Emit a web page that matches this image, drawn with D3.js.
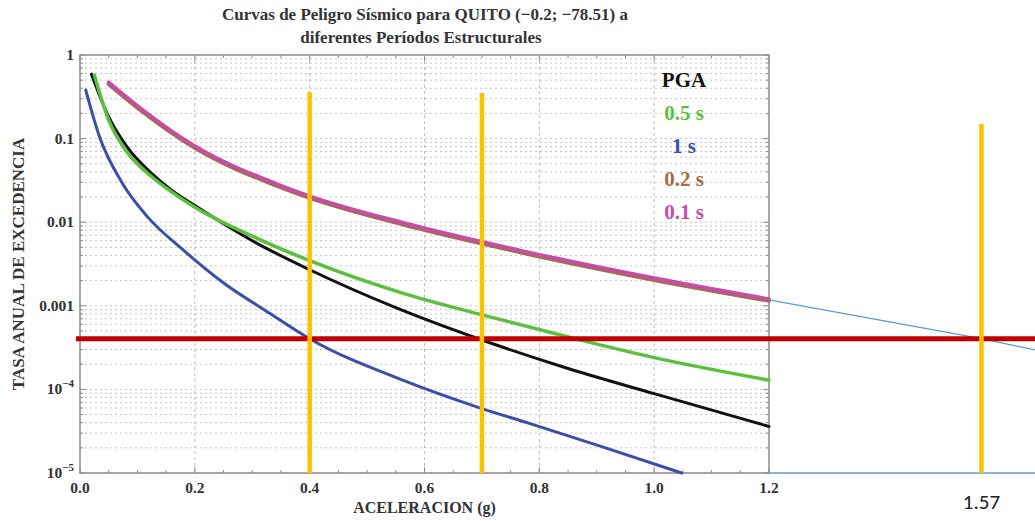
<!DOCTYPE html>
<html>
<head>
<meta charset="utf-8">
<script src="https://cdn.jsdelivr.net/npm/d3@7"></script>
<style>
  body { margin: 0; background: #fff; }
  svg { display: block; font-family: "Liberation Serif", "DejaVu Serif", serif; }
</style>
</head>
<body>
<svg id="chart" width="1035" height="521"></svg>
<script>
// hazard curves: [aceleracion (g), tasa anual]
const pga = [[0.02,0.59],[0.05,0.182],[0.08,0.083],[0.127,0.037],[0.16,0.024],[0.2,0.0158],[0.3,0.006],[0.4,0.0027],[0.55,0.00095],[0.7,0.00039],[0.85,0.000178],[1.0,0.000089],[1.2,0.000036]];
const t05 = [[0.025,0.575],[0.05,0.166],[0.08,0.072],[0.127,0.034],[0.16,0.0229],[0.2,0.0151],[0.3,0.0068],[0.4,0.00347],[0.563,0.00141],[0.7,0.00078],[0.854,0.000417],[1.0,0.00024],[1.2,0.000129]];
const t1  = [[0.01,0.38],[0.034,0.105],[0.074,0.029],[0.118,0.0115],[0.179,0.0047],[0.249,0.0019],[0.331,0.00081],[0.4,0.000404],[0.563,0.000128],[0.7,0.000059],[0.784,0.000039],[0.906,0.000021],[1.048,0.00001]];
const t02 = [[0.05,0.449],[0.109,0.21],[0.2,0.0774],[0.341,0.0275],[0.4,0.0195],[0.563,0.00936],[0.7,0.00554],[0.784,0.00411],[1.0,0.00204],[1.2,0.00115]];
const t01 = [[0.05,0.47],[0.109,0.22],[0.2,0.081],[0.341,0.0288],[0.4,0.0204],[0.563,0.0098],[0.7,0.0058],[0.784,0.0043],[1.0,0.00214],[1.2,0.0012]];

const seriesNames  = ["PGA", "0.5 s", "1 s", "0.2 s", "0.1 s"];
const seriesColors = ["#111111", "#5cbf3e", "#3b4ea8", "#a0703f", "#c44ea6"];

const xTicks = [0.0, 0.2, 0.4, 0.6, 0.8, 1.0, 1.2];
const yTicks = [1, 0.1, 0.01, 0.001, 1e-4, 1e-5];

// annotations added over the chart
const hazardLevel = 0.000404;
const markerX   = [0.4, 0.7, 1.57];
const markerTop = [0.36, 0.35, 0.15];
const extLine   = [[1.2, 0.00118], [1.57, 0.000404], [1.664, 0.000296]];
const extBase   = [[1.2, 1e-5], [1.664, 1e-5]];
const redSpan   = [-0.007, 1.664];

const svg = d3.select("#chart");
const margin = { top: 55, right: 266, bottom: 48, left: 80 };
const W = 1035, H = 521;

const x = d3.scaleLinear().domain([0, 1.2]).range([margin.left, W - margin.right]);
const y = d3.scaleLog().domain([1e-5, 1]).range([H - margin.bottom, margin.top]);

// grid
const minorY = [];
for (let e = -5; e < 0; e++) for (let m = 1; m < 10; m++) minorY.push(m * Math.pow(10, e));

svg.append("g").selectAll("line").data(minorY).join("line")
  .attr("x1", x(0)).attr("x2", x(1.2))
  .attr("y1", d => y(d)).attr("y2", d => y(d))
  .attr("stroke", "#c4c4c4").attr("stroke-width", 1).attr("stroke-dasharray", "2,3");

svg.append("g").selectAll("line").data(xTicks.slice(1, -1)).join("line")
  .attr("x1", d => x(d)).attr("x2", d => x(d))
  .attr("y1", y(1)).attr("y2", y(1e-5))
  .attr("stroke", "#bdbdbd").attr("stroke-width", 1).attr("stroke-dasharray", "3,3");

// frame
svg.append("rect")
  .attr("x", x(0)).attr("y", y(1))
  .attr("width", x(1.2) - x(0)).attr("height", y(1e-5) - y(1))
  .attr("fill", "none").attr("stroke", "#8c8c8c").attr("stroke-width", 1.5);

// ticks pointing inwards
const minorX = d3.range(0, 1.2001, 0.05);
const tk = svg.append("g").attr("stroke", "#8c8c8c").attr("stroke-width", 1);
minorX.forEach(v => {
  const len = xTicks.some(t => Math.abs(t - v) < 1e-6) ? 6 : 3;
  tk.append("line").attr("x1", x(v)).attr("x2", x(v)).attr("y1", y(1e-5)).attr("y2", y(1e-5) - len);
  tk.append("line").attr("x1", x(v)).attr("x2", x(v)).attr("y1", y(1)).attr("y2", y(1) + len);
});
minorY.concat([1]).forEach(v => {
  const len = Math.abs(Math.log10(v) - Math.round(Math.log10(v))) < 1e-6 ? 6 : 3;
  tk.append("line").attr("x1", x(0)).attr("x2", x(0) + len).attr("y1", y(v)).attr("y2", y(v));
  tk.append("line").attr("x1", x(1.2)).attr("x2", x(1.2) - len).attr("y1", y(v)).attr("y2", y(v));
});

// tick labels
svg.append("g").selectAll("text").data(xTicks).join("text")
  .attr("x", d => x(d)).attr("y", y(1e-5) + 20)
  .attr("text-anchor", "middle").attr("font-size", 15.5).attr("font-weight", "bold").attr("fill", "#333")
  .text(d => d.toFixed(1));

const yl = svg.append("g").selectAll("text").data(yTicks).join("text")
  .attr("x", x(0) - 6).attr("y", d => y(d) + 5)
  .attr("text-anchor", "end").attr("font-size", 15.5).attr("font-weight", "bold").attr("fill", "#333");
yl.each(function (d) {
  const t = d3.select(this);
  if (d >= 0.001) { t.text(String(d)); return; }
  t.append("tspan").text("10");
  t.append("tspan").attr("dy", -7).attr("font-size", 11).text("\u2212" + (-Math.round(Math.log10(d))));
});

// axis titles
svg.append("text")
  .attr("x", x(0.6)).attr("y", 513)
  .attr("text-anchor", "middle").attr("font-size", 16).attr("font-weight", "bold").attr("fill", "#333")
  .text("ACELERACION (g)");

svg.append("text")
  .attr("transform", `translate(24,${(y(1) + y(1e-5)) / 2}) rotate(-90)`)
  .attr("text-anchor", "middle").attr("font-size", 17).attr("font-weight", "bold").attr("fill", "#333")
  .text("TASA ANUAL DE EXCEDENCIA");

svg.append("text")
  .attr("x", 425).attr("y", 20)
  .attr("text-anchor", "middle").attr("font-size", 17).attr("font-weight", "bold").attr("fill", "#333")
  .text("Curvas de Peligro Sísmico para QUITO (\u22120.2; \u221278.51) a");
svg.append("text")
  .attr("x", 421).attr("y", 43)
  .attr("text-anchor", "middle").attr("font-size", 17).attr("font-weight", "bold").attr("fill", "#333")
  .text("diferentes Períodos Estructurales");

// curves
const line = d3.line().x(d => x(d[0])).y(d => y(d[1])).curve(d3.curveMonotoneX);
const drawOrder = [
  { data: pga, i: 0, w: 3 },
  { data: t1,  i: 2, w: 3 },
  { data: t05, i: 1, w: 3.5 },
  { data: t02, i: 3, w: 4 },
  { data: t01, i: 4, w: 4 }
];
svg.append("g").selectAll("path").data(drawOrder).join("path")
  .attr("d", d => line(d.data))
  .attr("fill", "none")
  .attr("stroke", d => seriesColors[d.i])
  .attr("stroke-width", d => d.w)
  .attr("stroke-linecap", "round");

// legend
svg.append("g").selectAll("text").data(seriesNames).join("text")
  .attr("x", 684).attr("y", (d, i) => 87 + i * 33)
  .attr("text-anchor", "middle").attr("font-size", 21).attr("font-weight", "bold")
  .attr("fill", (d, i) => seriesColors[i])
  .text(d => d);

// annotations: extrapolation, hazard level, acceleration markers
const plain = d3.line().x(d => x(d[0])).y(d => y(d[1]));
svg.append("path").attr("d", plain(extLine)).attr("fill", "none").attr("stroke", "#5b9bd5").attr("stroke-width", 1.3);
svg.append("path").attr("d", plain(extBase)).attr("fill", "none").attr("stroke", "#5b9bd5").attr("stroke-width", 1.3);

svg.append("line")
  .attr("x1", x(redSpan[0])).attr("x2", x(redSpan[1]))
  .attr("y1", y(hazardLevel)).attr("y2", y(hazardLevel))
  .attr("stroke", "#c00000").attr("stroke-width", 5);

svg.append("g").selectAll("line").data(markerX).join("line")
  .attr("x1", d => x(d)).attr("x2", d => x(d))
  .attr("y1", (d, i) => y(markerTop[i])).attr("y2", y(1e-5))
  .attr("stroke", "#ffc000").attr("stroke-width", 4.5);

svg.append("text")
  .attr("x", x(markerX[2])).attr("y", 509)
  .attr("text-anchor", "middle").attr("font-family", "Carlito, 'Liberation Sans', sans-serif")
  .attr("font-size", 21).attr("fill", "#222")
  .text("1.57");
</script>
</body>
</html>
